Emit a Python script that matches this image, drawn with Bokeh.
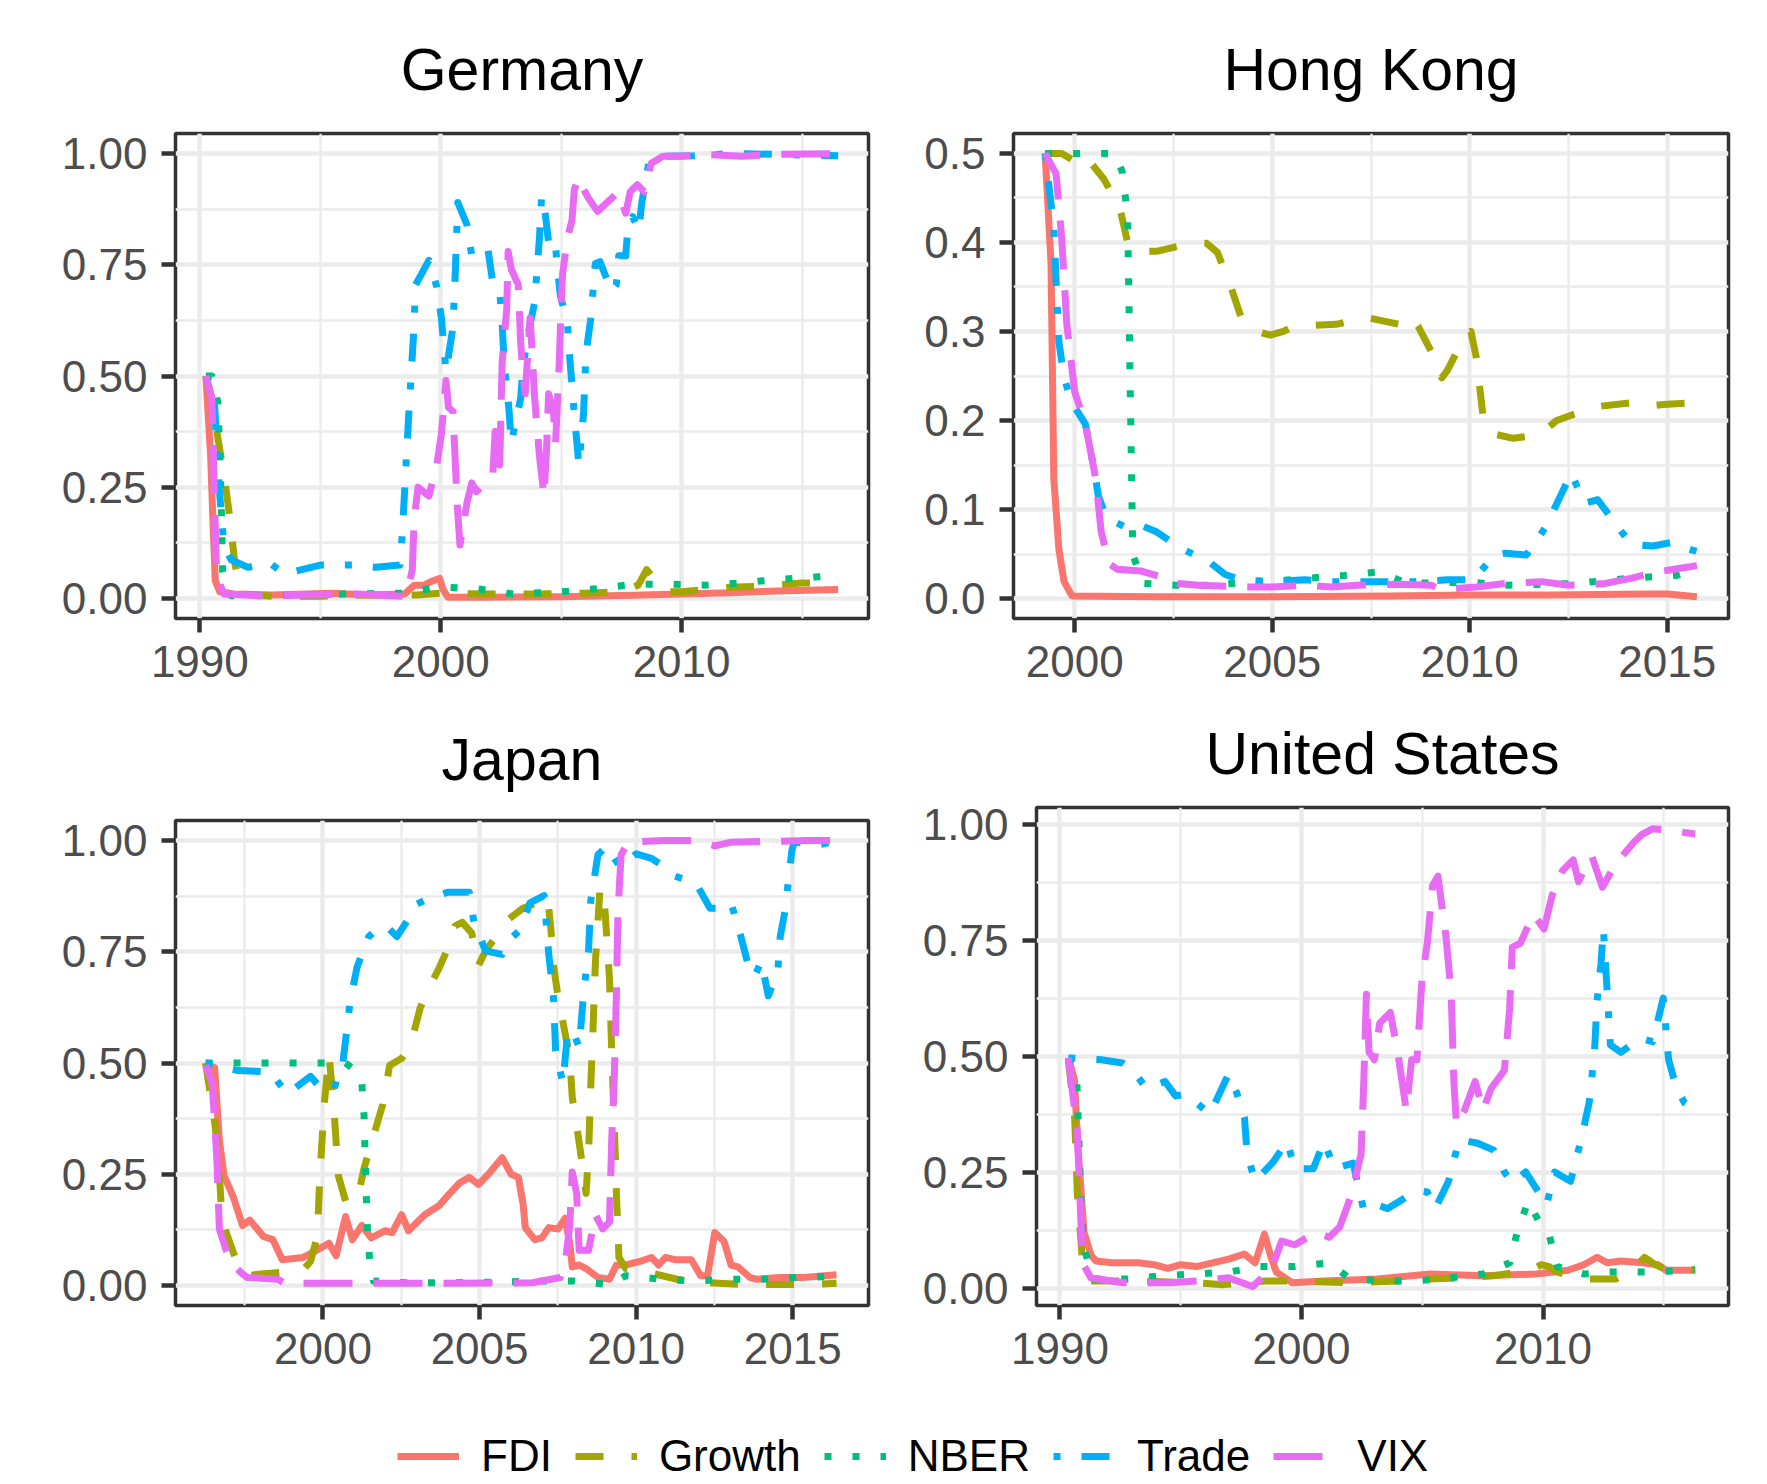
from bokeh.plotting import figure
from bokeh.models import Range1d, FixedTicker, PrintfTickFormatter, Legend, LegendItem
from bokeh.layouts import column, row
from bokeh.embed import file_html
from bokeh.resources import INLINE

SERIES = ["FDI", "Growth", "NBER", "Trade", "VIX"]
COLORS = ["#F8766D", "#A3A500", "#00BF7D", "#00B0F6", "#E76BF3"]
DASHES = ["solid", "28 28", "7 21", "7 21 28 21", "49 21"]

# ---------------- Germany ----------------
DE_FDI = [(1990.25, 0.50), (1990.45, 0.32), (1990.54, 0.18), (1990.64, 0.04), (1990.83, 0.015), (1991.4, 0.01),
          (1993.0, 0.008), (1995.5, 0.012), (1997.0, 0.008), (1998.5, 0.01), (1998.9, 0.03), (1999.3, 0.03),
          (1999.6, 0.038), (1999.95, 0.045), (2000.1, 0.02), (2000.3, 0.003), (2002.0, 0.003), (2005.0, 0.004),
          (2008.0, 0.007), (2010.0, 0.01), (2012.0, 0.013), (2014.0, 0.017), (2016.5, 0.02)]
DE_GROWTH = [(1990.25, 0.50), (1990.5, 0.45), (1990.75, 0.36), (1991.0, 0.28), (1991.25, 0.18), (1991.45, 0.08),
             (1991.7, 0.01), (1993.0, 0.005), (1995.0, 0.005), (1997.0, 0.008), (1999.0, 0.008), (2000.0, 0.012),
             (2002.0, 0.01), (2004.0, 0.01), (2006.0, 0.012), (2007.5, 0.015), (2008.2, 0.03), (2008.55, 0.065),
             (2008.9, 0.04), (2009.3, 0.015), (2010.0, 0.015), (2012.0, 0.025), (2013.5, 0.028), (2015.0, 0.035),
             (2016.5, 0.035)]
DE_NBER = [(1990.25, 0.50), (1990.5, 0.50), (1990.75, 0.44), (1990.85, 0.30), (1990.95, 0.06), (1991.3, 0.006),
           (1993.0, 0.006), (1996.0, 0.01), (1998.5, 0.012), (2000.0, 0.026), (2001.5, 0.022), (2003.0, 0.01),
           (2005.0, 0.015), (2006.5, 0.022), (2008.0, 0.032), (2009.5, 0.032), (2011.0, 0.03), (2012.5, 0.035),
           (2014.0, 0.043), (2015.3, 0.047), (2016.5, 0.053)]
DE_TRADE = [(1990.25, 0.50), (1990.6, 0.45), (1990.8, 0.25), (1991.0, 0.12), (1991.3, 0.087), (1992.0, 0.07),
            (1992.9, 0.08), (1993.5, 0.055), (1995.0, 0.075), (1996.5, 0.075), (1997.3, 0.07), (1998.3, 0.075),
            (1998.4, 0.14), (1998.54, 0.28), (1998.67, 0.41), (1998.77, 0.50), (1998.87, 0.59), (1998.96, 0.705),
            (1999.51, 0.76), (1999.84, 0.70), (2000.03, 0.63), (2000.22, 0.51), (2000.51, 0.61), (2000.61, 0.74),
            (2000.71, 0.89), (2001.09, 0.84), (2001.29, 0.77), (2001.96, 0.785), (2002.16, 0.71), (2002.45, 0.69),
            (2002.55, 0.62), (2002.64, 0.52), (2002.74, 0.48), (2002.84, 0.42), (2002.93, 0.35), (2003.32, 0.45),
            (2003.42, 0.52), (2003.61, 0.59), (2003.9, 0.665), (2004.0, 0.74), (2004.1, 0.81), (2004.19, 0.905),
            (2004.35, 0.86), (2004.48, 0.80), (2004.68, 0.81), (2004.77, 0.79), (2004.87, 0.73), (2004.97, 0.68),
            (2005.26, 0.62), (2005.35, 0.545), (2005.45, 0.48), (2005.55, 0.41), (2005.74, 0.30), (2005.93, 0.416),
            (2006.03, 0.55), (2006.22, 0.625), (2006.42, 0.753), (2006.61, 0.757), (2007.1, 0.69), (2007.29, 0.705),
            (2007.39, 0.77), (2007.68, 0.77), (2007.77, 0.834), (2007.97, 0.858), (2008.22, 0.826), (2008.35, 0.89),
            (2008.64, 0.98), (2009.23, 0.994), (2010.5, 0.995), (2012.0, 1.0), (2014.0, 0.998), (2016.5, 0.995)]
DE_VIX = [(1990.25, 0.50), (1990.5, 0.45), (1990.62, 0.20), (1990.7, 0.05), (1991.0, 0.01), (1992.5, 0.006),
          (1994.0, 0.007), (1996.5, 0.01), (1998.0, 0.006), (1998.55, 0.005), (1998.82, 0.063), (1998.9, 0.18),
          (1999.06, 0.25), (1999.51, 0.23), (1999.84, 0.30), (2000.03, 0.37), (2000.22, 0.49), (2000.32, 0.43),
          (2000.51, 0.42), (2000.61, 0.30), (2000.71, 0.19), (2000.8, 0.12), (2001.09, 0.215), (2001.29, 0.26),
          (2001.48, 0.24), (2002.16, 0.275), (2002.26, 0.375), (2002.45, 0.30), (2002.55, 0.53), (2002.74, 0.65),
          (2002.8, 0.78), (2002.93, 0.74), (2003.22, 0.705), (2003.32, 0.577), (2003.42, 0.50), (2003.51, 0.46),
          (2003.71, 0.63), (2003.8, 0.55), (2003.9, 0.45), (2004.1, 0.32), (2004.29, 0.23), (2004.39, 0.33),
          (2004.48, 0.46), (2004.68, 0.42), (2004.77, 0.35), (2004.93, 0.54), (2005.0, 0.66), (2005.06, 0.73),
          (2005.26, 0.81), (2005.45, 0.85), (2005.55, 0.92), (2005.74, 0.946), (2005.93, 0.92), (2006.13, 0.90),
          (2006.51, 0.87), (2007.39, 0.914), (2007.68, 0.866), (2007.87, 0.914), (2008.16, 0.93), (2008.45, 0.914),
          (2008.74, 0.978), (2009.23, 0.994), (2010.0, 0.994), (2010.8, 0.998), (2012.5, 0.994), (2014.0, 0.998),
          (2016.5, 1.0)]

# ---------------- Hong Kong ----------------
HK_FDI = [(1999.25, 0.50), (1999.4, 0.377), (1999.47, 0.135), (1999.6, 0.055), (1999.73, 0.019), (1999.93, 0.003),
          (2002.0, 0.002), (2005.0, 0.002), (2008.0, 0.003), (2010.0, 0.004), (2012.0, 0.004), (2014.5, 0.005),
          (2015.0, 0.005), (2015.75, 0.002)]
HK_GROWTH = [(1999.25, 0.50), (1999.67, 0.50), (1999.93, 0.493), (2000.1, 0.50), (2000.4, 0.49), (2000.74, 0.471),
             (2001.14, 0.439), (2001.34, 0.40), (2001.54, 0.39), (2002.07, 0.39), (2002.94, 0.399), (2003.34, 0.399),
             (2003.61, 0.389), (2003.94, 0.352), (2004.21, 0.316), (2004.6, 0.30), (2004.95, 0.296), (2005.28, 0.30),
             (2005.55, 0.306), (2006.62, 0.308), (2007.35, 0.316), (2008.22, 0.308), (2008.49, 0.318),
             (2008.69, 0.306), (2009.09, 0.272), (2009.29, 0.248), (2009.43, 0.256), (2009.89, 0.296),
             (2010.03, 0.30), (2010.16, 0.272), (2010.36, 0.196), (2010.6, 0.185), (2011.1, 0.18), (2011.76, 0.184),
             (2012.2, 0.20), (2012.57, 0.206), (2013.3, 0.216), (2014.1, 0.22), (2014.5, 0.216), (2014.9, 0.218),
             (2015.75, 0.22)]
HK_NBER = [(1999.25, 0.50), (2000.0, 0.50), (2001.0, 0.50), (2001.2, 0.48), (2001.34, 0.43), (2001.4, 0.25),
           (2001.47, 0.049), (2001.74, 0.017), (2002.54, 0.015), (2003.4, 0.015), (2004.3, 0.018), (2005.15, 0.02),
           (2005.95, 0.023), (2006.82, 0.026), (2007.69, 0.03), (2008.42, 0.017), (2009.29, 0.018), (2010.1, 0.018),
           (2010.96, 0.015), (2011.83, 0.016), (2012.7, 0.017), (2013.57, 0.021), (2014.44, 0.024),
           (2015.24, 0.026), (2015.75, 0.033)]
HK_TRADE = [(1999.25, 0.50), (1999.47, 0.417), (1999.53, 0.356), (1999.6, 0.288), (1999.73, 0.248), (1999.93, 0.22),
            (2000.27, 0.196), (2000.47, 0.15), (2000.6, 0.115), (2000.8, 0.091), (2001.34, 0.079), (2001.74, 0.081),
            (2002.07, 0.075), (2002.67, 0.057), (2003.41, 0.041), (2003.81, 0.027), (2004.21, 0.021),
            (2005.01, 0.019), (2005.82, 0.021), (2006.5, 0.019), (2008.09, 0.019), (2008.6, 0.019), (2009.43, 0.021),
            (2010.09, 0.021), (2010.36, 0.035), (2010.63, 0.049), (2010.9, 0.051), (2011.43, 0.049), (2011.9, 0.079),
            (2012.23, 0.109), (2012.57, 0.141), (2012.9, 0.107), (2013.24, 0.111), (2013.64, 0.087),
            (2013.84, 0.075), (2014.1, 0.061), (2014.64, 0.059), (2015.1, 0.063), (2015.44, 0.057), (2015.75, 0.053)]
HK_VIX = [(1999.25, 0.50), (1999.53, 0.477), (1999.67, 0.405), (1999.8, 0.308), (2000.0, 0.232), (2000.27, 0.196),
          (2000.53, 0.135), (2000.67, 0.075), (2000.87, 0.039), (2001.07, 0.033), (2001.67, 0.031), (2002.14, 0.025),
          (2002.61, 0.017), (2003.14, 0.015), (2004.21, 0.013), (2005.0, 0.013), (2005.82, 0.015), (2006.5, 0.013),
          (2007.15, 0.015), (2008.22, 0.016), (2009.02, 0.015), (2009.29, 0.01), (2010.16, 0.013), (2010.9, 0.017),
          (2011.83, 0.019), (2012.5, 0.015), (2013.44, 0.017), (2014.1, 0.023), (2014.64, 0.029), (2015.17, 0.033),
          (2015.75, 0.037)]

# ---------------- Japan ----------------
JP_FDI = [(1996.25, 0.497), (1996.54, 0.49), (1996.69, 0.327), (1996.84, 0.247), (1997.13, 0.20), (1997.43, 0.135),
          (1997.66, 0.147), (1998.1, 0.11), (1998.4, 0.103), (1998.7, 0.058), (1999.37, 0.063), (1999.82, 0.08),
          (2000.19, 0.095), (2000.42, 0.067), (2000.72, 0.155), (2000.94, 0.103), (2001.24, 0.135), (2001.54, 0.107),
          (2001.99, 0.123), (2002.21, 0.119), (2002.51, 0.159), (2002.73, 0.123), (2003.25, 0.159), (2003.7, 0.179),
          (2004.0, 0.203), (2004.37, 0.231), (2004.67, 0.243), (2004.97, 0.227), (2005.34, 0.255), (2005.72, 0.287),
          (2006.01, 0.25), (2006.24, 0.243), (2006.39, 0.183), (2006.46, 0.13), (2006.76, 0.103), (2006.99, 0.107),
          (2007.21, 0.13), (2007.51, 0.127), (2007.73, 0.151), (2007.88, 0.095), (2007.96, 0.042), (2008.18, 0.046),
          (2008.4, 0.038), (2008.78, 0.018), (2009.15, 0.014), (2009.37, 0.046), (2009.67, 0.046), (2010.12, 0.054),
          (2010.49, 0.063), (2010.72, 0.046), (2010.94, 0.063), (2011.24, 0.058), (2011.76, 0.058), (2012.06, 0.022),
          (2012.28, 0.022), (2012.51, 0.119), (2012.81, 0.099), (2013.03, 0.046), (2013.25, 0.042), (2013.63, 0.018),
          (2013.85, 0.014), (2014.6, 0.018), (2015.34, 0.018), (2016.4, 0.024)]
JP_GROWTH = [(1996.25, 0.50), (1996.54, 0.367), (1996.65, 0.30), (1996.76, 0.167), (1996.91, 0.119), (1997.28, 0.046),
             (1997.58, 0.022), (1998.03, 0.026), (1998.78, 0.03), (1999.3, 0.03), (1999.6, 0.054), (1999.82, 0.11),
             (1999.9, 0.247), (2000.04, 0.407), (2000.19, 0.519), (2000.34, 0.407), (2000.49, 0.247), (2000.72, 0.19),
             (2001.09, 0.19), (2001.31, 0.263), (2001.61, 0.335), (2001.91, 0.407), (2002.13, 0.495), (2002.51, 0.51),
             (2002.81, 0.543), (2003.1, 0.623), (2003.4, 0.671), (2003.7, 0.712), (2004.0, 0.76), (2004.22, 0.808),
             (2004.45, 0.816), (2004.75, 0.792), (2004.97, 0.72), (2005.19, 0.752), (2005.57, 0.788),
             (2005.94, 0.824), (2006.39, 0.848), (2006.69, 0.856), (2007.06, 0.876), (2007.21, 0.848), (2007.28, 0.80),
             (2007.36, 0.72), (2007.51, 0.647), (2007.73, 0.567), (2007.88, 0.511), (2007.96, 0.423), (2008.1, 0.359),
             (2008.25, 0.287), (2008.4, 0.207), (2008.48, 0.295), (2008.55, 0.447), (2008.63, 0.591), (2008.7, 0.728),
             (2008.85, 0.896), (2009.0, 0.848), (2009.15, 0.688), (2009.22, 0.527), (2009.3, 0.367), (2009.37, 0.207),
             (2009.45, 0.063), (2009.67, 0.038), (2010.34, 0.03), (2011.31, 0.014), (2012.36, 0.006), (2013.4, 0.002),
             (2014.6, 0.002), (2015.57, 0.002), (2016.4, 0.005)]
JP_NBER = [(1996.25, 0.50), (1997.5, 0.50), (1999.0, 0.50), (2000.72, 0.50), (2001.1, 0.48), (2001.24, 0.455),
           (2001.31, 0.383), (2001.36, 0.25), (2001.42, 0.12), (2001.5, 0.05), (2001.61, 0.01), (2002.7, 0.006),
           (2004.0, 0.006), (2005.87, 0.008), (2006.99, 0.01), (2008.03, 0.01), (2009.15, 0.002), (2009.67, 0.022),
           (2010.79, 0.014), (2011.84, 0.01), (2012.96, 0.014), (2014.0, 0.014), (2015.12, 0.018), (2016.4, 0.02)]
JP_TRADE = [(1996.25, 0.50), (1997.28, 0.483), (1998.33, 0.48), (1998.85, 0.43), (1999.6, 0.47), (1999.97, 0.44),
            (2000.34, 0.44), (2000.64, 0.503), (2000.87, 0.64), (2001.09, 0.716), (2001.46, 0.784), (2001.84, 0.808),
            (2002.13, 0.80), (2002.36, 0.784), (2002.73, 0.824), (2002.96, 0.856), (2003.33, 0.868), (2004.0, 0.884),
            (2004.67, 0.884), (2004.82, 0.816), (2005.19, 0.752), (2005.72, 0.744), (2005.94, 0.776), (2006.31, 0.80),
            (2006.61, 0.86), (2007.06, 0.876), (2007.21, 0.744), (2007.36, 0.647), (2007.43, 0.527), (2007.66, 0.455),
            (2007.81, 0.567), (2007.96, 0.575), (2008.18, 0.535), (2008.33, 0.663), (2008.48, 0.752),
            (2008.55, 0.864), (2008.78, 0.968), (2009.07, 0.988), (2009.3, 0.96), (2009.5, 0.94), (2010.0, 0.97),
            (2010.49, 0.96), (2011.01, 0.936), (2011.24, 0.92), (2011.91, 0.904), (2012.36, 0.848), (2012.6, 0.848),
            (2013.03, 0.86), (2013.33, 0.788), (2013.55, 0.728), (2013.78, 0.695), (2014.0, 0.728), (2014.22, 0.651),
            (2014.52, 0.704), (2014.6, 0.784), (2014.75, 0.84), (2014.97, 0.976), (2015.04, 0.996), (2015.94, 0.992),
            (2016.4, 1.0)]
JP_VIX = [(1996.25, 0.495), (1996.46, 0.455), (1996.61, 0.287), (1996.69, 0.127), (1996.91, 0.079), (1997.13, 0.046),
          (1997.43, 0.026), (1997.58, 0.018), (1998.55, 0.014), (1998.78, 0.005), (2000.34, 0.005), (2003.03, 0.005),
          (2006.69, 0.006), (2007.58, 0.018), (2007.73, 0.046), (2007.88, 0.135), (2007.96, 0.255), (2008.1, 0.207),
          (2008.18, 0.079), (2008.48, 0.079), (2008.7, 0.159), (2008.93, 0.127), (2009.15, 0.143), (2009.22, 0.327),
          (2009.3, 0.463), (2009.37, 0.655), (2009.42, 0.84), (2009.52, 0.968), (2009.75, 0.996), (2010.87, 1.0),
          (2011.9, 1.0), (2012.51, 0.988), (2013.0, 0.996), (2015.5, 1.0), (2016.4, 1.0)]

# ---------------- United States ----------------
US_FDI = [(1990.35, 0.497), (1990.6, 0.45), (1990.75, 0.30), (1991.0, 0.12), (1991.3, 0.07), (1991.5, 0.059),
          (1992.15, 0.055), (1993.25, 0.055), (1993.9, 0.051), (1994.46, 0.043), (1995.0, 0.051), (1995.66, 0.047),
          (1996.32, 0.055), (1996.98, 0.063), (1997.64, 0.074), (1998.08, 0.055), (1998.47, 0.117), (1998.74, 0.067),
          (1998.96, 0.035), (1999.62, 0.012), (2000.93, 0.016), (2003.13, 0.02), (2005.32, 0.031), (2007.52, 0.027),
          (2009.71, 0.031), (2011.03, 0.039), (2011.69, 0.051), (2012.24, 0.067), (2012.68, 0.055), (2013.23, 0.059),
          (2014.1, 0.055), (2014.76, 0.051), (2015.09, 0.039), (2016.3, 0.039)]
US_GROWTH = [(1990.35, 0.493), (1990.61, 0.368), (1990.72, 0.204), (1990.94, 0.055), (1991.27, 0.016),
             (1993.03, 0.016), (1995.66, 0.012), (1996.76, 0.008), (1998.52, 0.016), (1999.62, 0.016),
             (2002.03, 0.012), (2004.23, 0.016), (2005.32, 0.02), (2006.64, 0.023), (2007.96, 0.027), (2009.5, 0.039),
             (2009.93, 0.051), (2010.26, 0.047), (2010.59, 0.035), (2011.69, 0.02), (2013.0, 0.02), (2013.67, 0.039),
             (2014.21, 0.067), (2014.65, 0.051), (2015.09, 0.041), (2016.3, 0.04)]
US_NBER = [(1990.35, 0.497), (1990.7, 0.446), (1990.8, 0.30), (1990.9, 0.15), (1991.05, 0.078), (1991.38, 0.02),
           (1992.81, 0.02), (1994.13, 0.027), (1995.55, 0.031), (1996.98, 0.035), (1998.3, 0.047), (1999.73, 0.047),
           (2001.15, 0.055), (2002.03, 0.02), (2003.46, 0.016), (2004.78, 0.016), (2006.2, 0.023), (2007.52, 0.031),
           (2008.62, 0.055), (2008.95, 0.125), (2009.39, 0.188), (2009.82, 0.145), (2010.26, 0.114), (2010.59, 0.047),
           (2011.69, 0.031), (2012.79, 0.035), (2014.21, 0.035), (2015.53, 0.038), (2016.3, 0.04)]
US_TRADE = [(1990.35, 0.497), (1991.71, 0.493), (1992.59, 0.486), (1993.03, 0.47), (1993.58, 0.431), (1994.35, 0.446),
            (1994.79, 0.415), (1995.22, 0.419), (1996.21, 0.376), (1996.98, 0.462), (1997.31, 0.423),
            (1997.64, 0.368), (1997.75, 0.29), (1998.08, 0.231), (1998.85, 0.274), (1999.4, 0.317), (1999.73, 0.258),
            (2000.49, 0.258), (2000.93, 0.317), (2001.37, 0.258), (2002.14, 0.27), (2002.58, 0.168), (2003.13, 0.18),
            (2003.57, 0.172), (2004.78, 0.211), (2005.21, 0.208), (2005.54, 0.172), (2006.09, 0.231),
            (2006.53, 0.321), (2007.3, 0.313), (2007.96, 0.298), (2008.4, 0.251), (2008.73, 0.227), (2009.28, 0.251),
            (2010.15, 0.18), (2010.48, 0.251), (2011.14, 0.231), (2011.58, 0.321), (2011.91, 0.40), (2012.13, 0.509),
            (2012.24, 0.619), (2012.4, 0.70), (2012.5, 0.775), (2012.6, 0.69), (2012.79, 0.525), (2013.23, 0.509),
            (2014.0, 0.54), (2014.54, 0.532), (2014.98, 0.626), (2015.2, 0.493), (2015.53, 0.431), (2015.86, 0.40),
            (2016.3, 0.384)]
US_VIX = [(1990.35, 0.497), (1990.72, 0.337), (1990.94, 0.055), (1991.27, 0.023), (1992.59, 0.012), (1994.57, 0.012),
          (1995.77, 0.016), (1996.98, 0.023), (1997.97, 0.004), (1998.74, 0.039), (1999.18, 0.102), (1999.73, 0.094),
          (2000.6, 0.121), (2001.15, 0.11), (2001.59, 0.133), (2002.03, 0.196), (2002.47, 0.29), (2002.58, 0.446),
          (2002.69, 0.634), (2002.8, 0.509), (2003.02, 0.493), (2003.24, 0.572), (2003.68, 0.595), (2004.01, 0.501),
          (2004.34, 0.384), (2004.56, 0.493), (2004.78, 0.493), (2004.99, 0.666), (2005.21, 0.744), (2005.43, 0.869),
          (2005.65, 0.889), (2005.98, 0.76), (2006.2, 0.634), (2006.31, 0.446), (2006.42, 0.352), (2006.75, 0.384),
          (2007.19, 0.446), (2007.52, 0.384), (2007.85, 0.431), (2008.4, 0.47), (2008.62, 0.603), (2008.73, 0.736),
          (2009.06, 0.744), (2009.6, 0.807), (2010.04, 0.775), (2010.37, 0.846), (2010.81, 0.901), (2011.25, 0.924),
          (2011.47, 0.877), (2011.69, 0.901), (2012.02, 0.932), (2012.46, 0.865), (2013.01, 0.916), (2013.78, 0.963),
          (2014.1, 0.979), (2014.54, 0.991), (2015.42, 0.987), (2015.86, 0.983), (2016.3, 0.98)]

DE_XTICKS = [1990, 2000, 2010]
DE_XMINOR = [1995, 2005, 2015]
HK_XTICKS = [2000, 2005, 2010, 2015]
HK_XMINOR = [2002.5, 2007.5, 2012.5]
JP_XTICKS = [2000, 2005, 2010, 2015]
JP_XMINOR = [1997.5, 2002.5, 2007.5, 2012.5, 2017.5]
US_XTICKS = [1990, 2000, 2010]
US_XMINOR = [1995, 2005, 2015]
UNIT_YTICKS = [0.0, 0.25, 0.5, 0.75, 1.0]
UNIT_YMINOR = [0.125, 0.375, 0.625, 0.875]
HK_YTICKS = [0.0, 0.1, 0.2, 0.3, 0.4, 0.5]
HK_YMINOR = [0.05, 0.15, 0.25, 0.35, 0.45]

FONT = "Liberation Sans"
LW = 7


def panel(title, data, xr, yr, xt, xm, yt, ym, yfmt, fw, fh, bl, br, bt, bb, tstand):
    p = figure(frame_width=fw, frame_height=fh, x_range=Range1d(*xr), y_range=Range1d(*yr),
               output_backend="svg", toolbar_location=None, frame_align=False,
               min_border_left=bl, min_border_right=br, min_border_top=bt, min_border_bottom=bb)
    p.title.text = title
    p.title.align = "center"
    p.title.text_font = FONT
    p.title.text_font_size = "59px"
    p.title.text_font_style = "normal"
    p.title.text_color = "black"
    p.title.standoff = tstand
    p.background_fill_color = "white"
    p.border_fill_color = "white"
    p.outline_line_color = "#333333"
    p.outline_line_width = 3.5
    p.xaxis.ticker = FixedTicker(ticks=xt, minor_ticks=xm)
    p.yaxis.ticker = FixedTicker(ticks=yt, minor_ticks=ym)
    p.xgrid.ticker = FixedTicker(ticks=xt, minor_ticks=xm)
    p.ygrid.ticker = FixedTicker(ticks=yt, minor_ticks=ym)
    p.xaxis.formatter = PrintfTickFormatter(format="%d")
    p.yaxis.formatter = PrintfTickFormatter(format=yfmt)
    for ax in (p.xaxis, p.yaxis):
        ax.axis_line_color = None
        ax.major_tick_line_color = "#333333"
        ax.major_tick_line_width = 4.5
        ax.major_tick_out = 14
        ax.major_tick_in = 0
        ax.minor_tick_line_color = None
        ax.major_label_text_font = FONT
        ax.major_label_text_font_size = "44px"
        ax.major_label_text_color = "#4D4D4D"
    p.xaxis.major_label_standoff = 13
    p.yaxis.major_label_standoff = 14
    for g in (p.xgrid, p.ygrid):
        g.grid_line_color = "#EBEBEB"
        g.grid_line_width = 4.5
        g.minor_grid_line_color = "#EBEBEB"
        g.minor_grid_line_width = 2.3
    for pts, c, d in zip(data, COLORS, DASHES):
        xs = [a for a, b in pts]
        ys = [b for a, b in pts]
        p.line(xs, ys, line_color=c, line_width=LW, line_dash=d, line_join="round")
    return p


pG = panel("Germany", [DE_FDI, DE_GROWTH, DE_NBER, DE_TRADE, DE_VIX], (1988.99, 2017.76), (-0.045, 1.045),
           DE_XTICKS, DE_XMINOR, UNIT_YTICKS, UNIT_YMINOR, "%.2f", 693, 485, 175, 40, 133, 77, 62)
pH = panel("Hong Kong", [HK_FDI, HK_GROWTH, HK_NBER, HK_TRADE, HK_VIX], (1998.45, 2016.55), (-0.0224, 0.5224),
           HK_XTICKS, HK_XMINOR, HK_YTICKS, HK_YMINOR, "%.1f", 715, 485, 105, 39, 133, 77, 62)
pJ = panel("Japan", [JP_FDI, JP_GROWTH, JP_NBER, JP_TRADE, JP_VIX], (1995.29, 2017.42), (-0.045, 1.045),
           JP_XTICKS, JP_XMINOR, UNIT_YTICKS, UNIT_YMINOR, "%.2f", 693, 485, 175, 40, 125, 77, 55)
pU = panel("United States", [US_FDI, US_GROWTH, US_NBER, US_TRADE, US_VIX], (1989.03, 2017.68), (-0.037, 1.037),
           US_XTICKS, US_XMINOR, UNIT_YTICKS, UNIT_YMINOR, "%.2f", 692, 498, 128, 39, 112, 77, 41)

pL = figure(frame_width=1767, frame_height=100, x_range=Range1d(0, 1), y_range=Range1d(0, 1),
            x_axis_type=None, y_axis_type=None, toolbar_location=None, output_backend="svg",
            frame_align=False,
            min_border_left=0, min_border_right=0, min_border_top=0, min_border_bottom=0)
pL.outline_line_color = None
pL.background_fill_color = "white"
pL.border_fill_color = "white"
items = []
for s, c, d in zip(SERIES, COLORS, DASHES):
    r = pL.line([-10, -9], [-10, -9], line_color=c, line_width=LW, line_dash=d)
    items.append(LegendItem(label=s, renderers=[r]))
leg = Legend(items=items, orientation="horizontal", location=(397, 1), glyph_width=62, glyph_height=30,
             label_height=30, label_standoff=22, spacing=23, padding=0, margin=0, border_line_color=None,
             background_fill_alpha=0, label_text_font=FONT, label_text_font_size="44px",
             label_text_color="black")
pL.add_layout(leg)

layout = column(row(pG, pH), row(pJ, pU), pL)
open("out.html", "w").write(file_html(layout, INLINE))
